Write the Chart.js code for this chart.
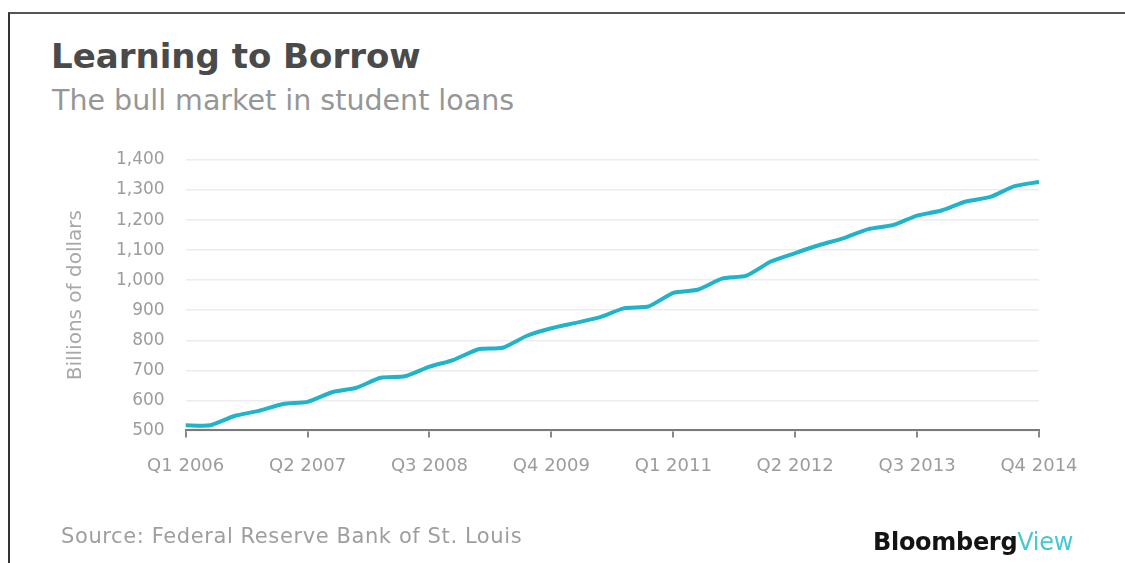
<!DOCTYPE html>
<html>
<head>
<meta charset="utf-8">
<script src="https://cdn.jsdelivr.net/npm/chart.js@4.4.0/dist/chart.umd.min.js"></script>
<style>
  body { margin: 0; background: #fff; }
  #wrap { position: relative; width: 1125px; height: 563px; overflow: hidden; font-family: "DejaVu Sans", sans-serif; }
  #frame { position: absolute; left: 8px; top: 12px; right: -2px; bottom: -2px; border-top: 2px solid #555; border-left: 2px solid #333; }
  #title { position: absolute; left: 51px; top: 36px; font-size: 34px; font-weight: 700; color: #4a4a4a; white-space: nowrap; }
  #subtitle { position: absolute; left: 52px; top: 84px; font-size: 28.5px; color: #969696; white-space: nowrap; }
  #source { position: absolute; left: 61px; top: 524px; font-size: 21px; color: #9e9e9e; letter-spacing: 0.6px; white-space: nowrap; }
  #logo { position: absolute; left: 873px; top: 528px; font-size: 24px; font-weight: 700; color: #141414; letter-spacing: -0.3px; white-space: nowrap; }
  #logo span { color: #44c9cf; font-weight: 400; }
  canvas { position: absolute; left: 0; top: 0; }
</style>
</head>
<body>
<div id="wrap">
  <div id="frame"></div>
  <div id="title">Learning to Borrow</div>
  <div id="subtitle">The bull market in student loans</div>
  <canvas id="chart" width="1125" height="563"></canvas>
  <div id="source">Source: Federal Reserve Bank of St. Louis</div>
  <div id="logo">Bloomberg<span>View</span></div>
</div>
<script>
// quarters Q1 2006 .. Q4 2014
const quarters = [
  "Q1 2006", "Q2 2006", "Q3 2006", "Q4 2006",
  "Q1 2007", "Q2 2007", "Q3 2007", "Q4 2007",
  "Q1 2008", "Q2 2008", "Q3 2008", "Q4 2008",
  "Q1 2009", "Q2 2009", "Q3 2009", "Q4 2009",
  "Q1 2010", "Q2 2010", "Q3 2010", "Q4 2010",
  "Q1 2011", "Q2 2011", "Q3 2011", "Q4 2011",
  "Q1 2012", "Q2 2012", "Q3 2012", "Q4 2012",
  "Q1 2013", "Q2 2013", "Q3 2013", "Q4 2013",
  "Q1 2014", "Q2 2014", "Q3 2014", "Q4 2014"
];

// student loans, billions of dollars
const loans = [
  517, 517, 548, 565, 588, 595, 627, 642, 675, 680, 712, 735,
  770, 775, 815, 840, 858, 877, 907, 913, 958, 968, 1005, 1015,
  1062, 1090, 1117, 1140, 1170, 1183, 1215, 1232, 1262, 1277, 1313, 1327
];

// every fifth quarter gets a label
const shownTicks = ["Q1 2006", "Q2 2007", "Q3 2008", "Q4 2009", "Q1 2011", "Q2 2012", "Q3 2013", "Q4 2014"];

const yMin = 500;
const yMax = 1400;
const yStep = 100;

const ctx = document.getElementById("chart").getContext("2d");

new Chart(ctx, {
  type: "line",
  data: {
    labels: quarters,
    datasets: [{
      data: loans,
      borderColor: "#1fb4ca",
      borderWidth: 4,
      pointRadius: 0,
      tension: 0.2,
      fill: false
    }]
  },
  options: {
    responsive: false,
    animation: false,
    layout: { padding: { left: 64, top: 160, right: 86, bottom: 68 } },
    plugins: { legend: { display: false }, tooltip: { enabled: false } },
    scales: {
      x: {
        grid: { drawOnChartArea: false, drawTicks: true, tickLength: 7, color: "#888", lineWidth: 2 },
        border: { display: true, color: "#7a7a7a", width: 2 },
        ticks: {
          autoSkip: false,
          maxRotation: 0,
          padding: 18,
          color: "#9c9c9c",
          font: { family: "DejaVu Sans", size: 18 },
          callback: function (val) {
            const lab = this.getLabelForValue(val);
            return shownTicks.includes(lab) ? lab : null;
          }
        }
      },
      y: {
        min: yMin,
        max: yMax,
        grid: { color: "#ececec", lineWidth: 1.5, drawTicks: false },
        border: { display: false },
        ticks: {
          stepSize: yStep,
          padding: 21,
          color: "#9c9c9c",
          font: { family: "DejaVu Sans", size: 17 },
          callback: v => v.toLocaleString("en-US")
        },
        title: {
          display: true,
          text: "Billions of dollars",
          color: "#a8a8a8",
          font: { family: "DejaVu Sans", size: 20 },
          padding: { top: 0, bottom: 7 }
        }
      }
    }
  }
});
</script>
</body>
</html>
